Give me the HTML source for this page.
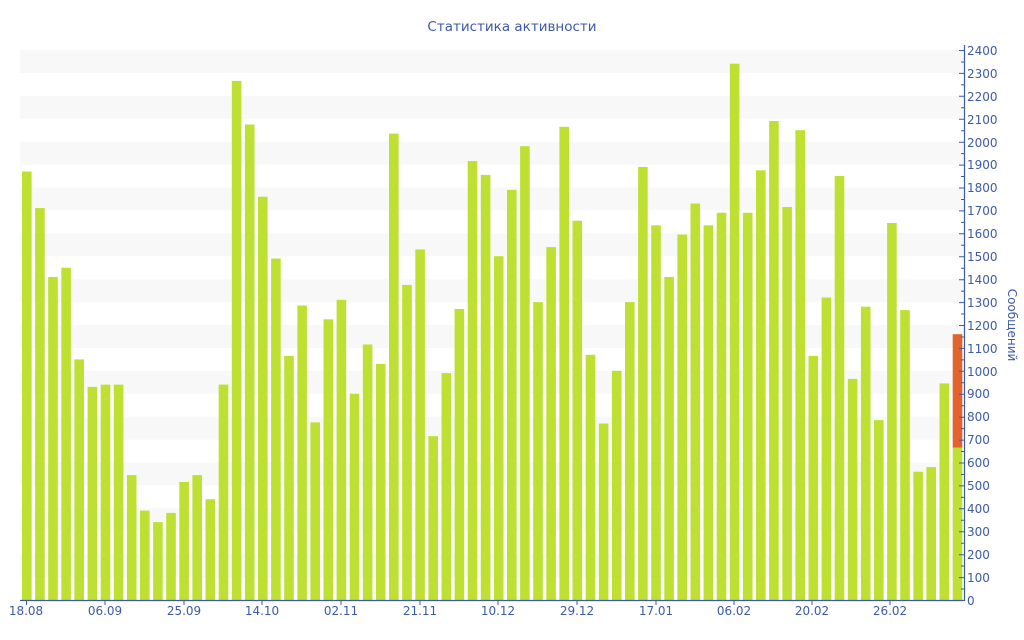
<!DOCTYPE html>
<html><head><meta charset="utf-8"><style>
html,body{margin:0;padding:0;background:#fff;}
svg{display:block;font-family:"DejaVu Sans","Liberation Sans",sans-serif;}
</style></head><body>
<svg width="1024" height="640" viewBox="0 0 1024 640" xmlns="http://www.w3.org/2000/svg">
<text x="512" y="31" text-anchor="middle" font-size="13.5" fill="#3d5aa8">Статистика активности</text>
<g fill="#f8f8f8">
<rect x="20" y="50" width="944" height="22.9"/>
<rect x="20" y="95.8" width="944" height="22.9"/>
<rect x="20" y="141.7" width="944" height="22.9"/>
<rect x="20" y="187.5" width="944" height="22.9"/>
<rect x="20" y="233.3" width="944" height="22.9"/>
<rect x="20" y="279.2" width="944" height="22.9"/>
<rect x="20" y="325" width="944" height="22.9"/>
<rect x="20" y="370.8" width="944" height="22.9"/>
<rect x="20" y="416.7" width="944" height="22.9"/>
<rect x="20" y="462.5" width="944" height="22.9"/>
<rect x="20" y="508.3" width="944" height="22.9"/>
<rect x="20" y="554.2" width="944" height="22.9"/>
</g>
<g fill="#bde032">
<rect x="22" y="171.5" width="9.6" height="428.5"/>
<rect x="35.1" y="208.1" width="9.6" height="391.9"/>
<rect x="48.2" y="276.9" width="9.6" height="323.1"/>
<rect x="61.3" y="267.7" width="9.6" height="332.3"/>
<rect x="74.4" y="359.4" width="9.6" height="240.6"/>
<rect x="87.6" y="386.9" width="9.6" height="213.1"/>
<rect x="100.7" y="384.6" width="9.6" height="215.4"/>
<rect x="113.8" y="384.6" width="9.6" height="215.4"/>
<rect x="126.9" y="475.1" width="9.6" height="124.9"/>
<rect x="140" y="510.6" width="9.6" height="89.4"/>
<rect x="153.1" y="522.1" width="9.6" height="77.9"/>
<rect x="166.2" y="512.9" width="9.6" height="87.1"/>
<rect x="179.3" y="482" width="9.6" height="118"/>
<rect x="192.4" y="475.1" width="9.6" height="124.9"/>
<rect x="205.5" y="499.2" width="9.6" height="100.8"/>
<rect x="218.7" y="384.6" width="9.6" height="215.4"/>
<rect x="231.8" y="80.9" width="9.6" height="519.1"/>
<rect x="244.9" y="124.5" width="9.6" height="475.5"/>
<rect x="258" y="196.7" width="9.6" height="403.3"/>
<rect x="271.1" y="258.5" width="9.6" height="341.5"/>
<rect x="284.2" y="355.9" width="9.6" height="244.1"/>
<rect x="297.3" y="305.5" width="9.6" height="294.5"/>
<rect x="310.4" y="422.4" width="9.6" height="177.6"/>
<rect x="323.5" y="319.3" width="9.6" height="280.7"/>
<rect x="336.6" y="299.8" width="9.6" height="300.2"/>
<rect x="349.7" y="393.7" width="9.6" height="206.3"/>
<rect x="362.8" y="344.5" width="9.6" height="255.5"/>
<rect x="375.9" y="364" width="9.6" height="236"/>
<rect x="389" y="133.6" width="9.6" height="466.4"/>
<rect x="402.2" y="284.9" width="9.6" height="315.1"/>
<rect x="415.3" y="249.4" width="9.6" height="350.6"/>
<rect x="428.4" y="436.1" width="9.6" height="163.9"/>
<rect x="441.5" y="373.1" width="9.6" height="226.9"/>
<rect x="454.6" y="309" width="9.6" height="291"/>
<rect x="467.7" y="161.1" width="9.6" height="438.9"/>
<rect x="480.8" y="174.9" width="9.6" height="425.1"/>
<rect x="493.9" y="256.2" width="9.6" height="343.8"/>
<rect x="507" y="189.8" width="9.6" height="410.2"/>
<rect x="520.1" y="146.2" width="9.6" height="453.8"/>
<rect x="533.2" y="302.1" width="9.6" height="297.9"/>
<rect x="546.3" y="247.1" width="9.6" height="352.9"/>
<rect x="559.4" y="126.8" width="9.6" height="473.2"/>
<rect x="572.5" y="220.7" width="9.6" height="379.3"/>
<rect x="585.7" y="354.8" width="9.6" height="245.2"/>
<rect x="598.8" y="423.5" width="9.6" height="176.5"/>
<rect x="611.9" y="370.8" width="9.6" height="229.2"/>
<rect x="625" y="302.1" width="9.6" height="297.9"/>
<rect x="638.1" y="166.9" width="9.6" height="433.1"/>
<rect x="651.2" y="225.3" width="9.6" height="374.7"/>
<rect x="664.3" y="276.9" width="9.6" height="323.1"/>
<rect x="677.4" y="234.5" width="9.6" height="365.5"/>
<rect x="690.5" y="203.5" width="9.6" height="396.5"/>
<rect x="703.6" y="225.3" width="9.6" height="374.7"/>
<rect x="716.7" y="212.7" width="9.6" height="387.3"/>
<rect x="729.8" y="63.7" width="9.6" height="536.3"/>
<rect x="742.9" y="212.7" width="9.6" height="387.3"/>
<rect x="756" y="170.3" width="9.6" height="429.7"/>
<rect x="769.1" y="121" width="9.6" height="479"/>
<rect x="782.3" y="207" width="9.6" height="393"/>
<rect x="795.4" y="130.2" width="9.6" height="469.8"/>
<rect x="808.5" y="355.9" width="9.6" height="244.1"/>
<rect x="821.6" y="297.5" width="9.6" height="302.5"/>
<rect x="834.7" y="176" width="9.6" height="424"/>
<rect x="847.8" y="378.9" width="9.6" height="221.1"/>
<rect x="860.9" y="306.7" width="9.6" height="293.3"/>
<rect x="874" y="420.1" width="9.6" height="179.9"/>
<rect x="887.1" y="223" width="9.6" height="377"/>
<rect x="900.2" y="310.1" width="9.6" height="289.9"/>
<rect x="913.3" y="471.7" width="9.6" height="128.3"/>
<rect x="926.4" y="467.1" width="9.6" height="132.9"/>
<rect x="939.5" y="383.4" width="9.6" height="216.6"/>
<rect x="952.7" y="447.6" width="9.6" height="152.4"/>
</g>
<rect x="952.7" y="334.2" width="9.6" height="113.4" fill="#e2632e"/>
<g stroke="#3d5aa8" stroke-width="1.2" fill="none">
<line x1="20" y1="600.5" x2="964" y2="600.5"/>
<line x1="964.5" y1="45" x2="964.5" y2="601"/>
</g>
<g stroke="#3d5aa8" stroke-width="1">
<path d="M959,600.5h5M961,589h3M959,577.6h5M961,566h3M959,554.7h5M961,543.2h3M959,531.8h5M961,520.3h3M959,508.8h5M961,497.4h3M959,485.9h5M961,474.5h3M959,463h5M961,451.5h3M959,440.1h5M961,428.6h3M959,417.2h5M961,405.7h3M959,394.3h5M961,382.8h3M959,371.3h5M961,359.9h3M959,348.4h5M961,337h3M959,325.5h5M961,314h3M959,302.6h5M961,291.1h3M959,279.7h5M961,268.2h3M959,256.8h5M961,245.3h3M959,233.8h5M961,222.4h3M959,210.9h5M961,199.5h3M959,188h5M961,176.5h3M959,165.1h5M961,153.6h3M959,142.2h5M961,130.7h3M959,119.3h5M961,107.8h3M959,96.3h5M961,84.9h3M959,73.4h5M961,62h3M959,50.5h5"/>
<path d="M26.5,600v5M105,600v5M184,600v5M262,600v5M341,600v5M420,600v5M498,600v5M577,600v5M656,600v5M734,600v5M812,600v5M890,600v5"/>
</g>
<g font-size="12" fill="#3d5aa8">
<text x="967" y="605">0</text>
<text x="967" y="582">100</text>
<text x="967" y="559">200</text>
<text x="967" y="536">300</text>
<text x="967" y="513">400</text>
<text x="967" y="490">500</text>
<text x="967" y="467">600</text>
<text x="967" y="444">700</text>
<text x="967" y="421">800</text>
<text x="967" y="398">900</text>
<text x="967" y="376">1000</text>
<text x="967" y="353">1100</text>
<text x="967" y="330">1200</text>
<text x="967" y="307">1300</text>
<text x="967" y="284">1400</text>
<text x="967" y="261">1500</text>
<text x="967" y="238">1600</text>
<text x="967" y="215">1700</text>
<text x="967" y="192">1800</text>
<text x="967" y="169">1900</text>
<text x="967" y="147">2000</text>
<text x="967" y="124">2100</text>
<text x="967" y="101">2200</text>
<text x="967" y="78">2300</text>
<text x="967" y="55">2400</text>
</g>
<g font-size="12" fill="#3d5aa8" text-anchor="middle">
<text x="26" y="615">18.08</text>
<text x="105" y="615">06.09</text>
<text x="184" y="615">25.09</text>
<text x="262" y="615">14.10</text>
<text x="341" y="615">02.11</text>
<text x="420" y="615">21.11</text>
<text x="498" y="615">10.12</text>
<text x="577" y="615">29.12</text>
<text x="656" y="615">17.01</text>
<text x="734" y="615">06.02</text>
<text x="812" y="615">20.02</text>
<text x="890" y="615">26.02</text>
</g>
<text transform="translate(1008,325) rotate(90)" text-anchor="middle" font-size="12" fill="#3d5aa8">Сообщений</text>
</svg>
</body></html>
